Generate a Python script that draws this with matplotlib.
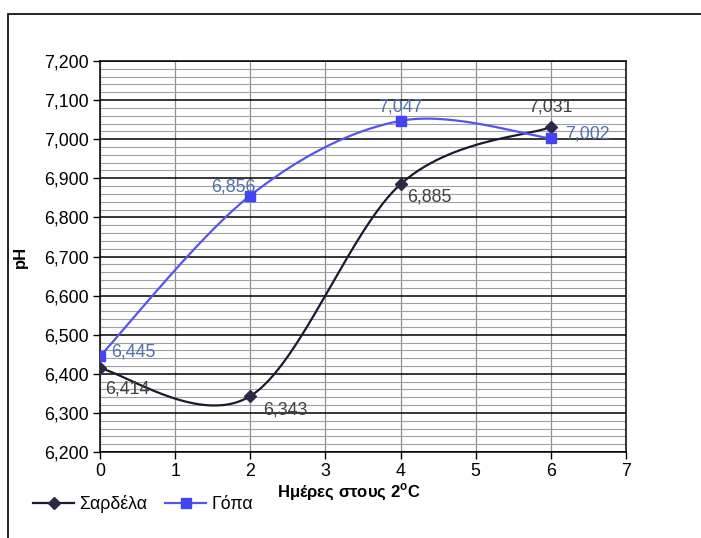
import numpy as np
import matplotlib
matplotlib.use("Agg")
import matplotlib.pyplot as plt
from matplotlib.ticker import FuncFormatter, MultipleLocator
from matplotlib.patches import Rectangle

days = [0, 2, 4, 6]
sardela = [6.414, 6.343, 6.885, 7.031]
gopa = [6.445, 6.856, 7.047, 7.002]
series_names = ["Σαρδέλα", "Γόπα"]
x_label = "Ημέρες στους 2$^{\\mathregular{o}}$C"
y_label = "pH"

plt.rcParams['font.family'] = ['Liberation Sans', 'DejaVu Sans']


def smooth(xs, ys, n=60):
    xs = np.asarray(xs, float); ys = np.asarray(ys, float)
    P = np.column_stack([xs, ys])
    out = []
    for i in range(len(P) - 1):
        p0 = P[i]; p3 = P[i + 1]
        pm = P[i - 1] if i > 0 else P[i]
        pp = P[i + 2] if i + 2 < len(P) else P[i + 1]
        c1 = p0 + (p3 - pm) / 6.0
        c2 = p3 - (pp - p0) / 6.0
        t = np.linspace(0, 1, n)[:, None]
        B = (1 - t) ** 3 * p0 + 3 * (1 - t) ** 2 * t * c1 + 3 * (1 - t) * t ** 2 * c2 + t ** 3 * p3
        out.append(B if i == 0 else B[1:])
    B = np.vstack(out)
    return B[:, 0], B[:, 1]


FS = 12.8

fig = plt.figure(figsize=(7.01, 5.38), dpi=100)
fig.patch.set_facecolor('white')
fig.add_artist(Rectangle((8 / 701, -0.1), 1.2, 1 - 14 / 538 + 0.1, transform=fig.transFigure,
                         fill=False, edgecolor='black', lw=1.2))

ax = fig.add_axes([100 / 701, 1 - 452 / 538, 526 / 701, 391 / 538])
ax.set_xlim(0, 7)
ax.set_ylim(6.2, 7.2)
ax.xaxis.set_major_locator(MultipleLocator(1))
ax.yaxis.set_major_locator(MultipleLocator(0.1))
ax.yaxis.set_minor_locator(MultipleLocator(0.02))
ax.yaxis.set_major_formatter(FuncFormatter(lambda v, p: f"{v:.3f}".replace('.', ',')))
ax.grid(which='minor', axis='y', color='#a0a0a0', lw=0.8)
ax.grid(which='major', axis='y', color='black', lw=1.1)
ax.grid(which='major', axis='x', color='#909090', lw=0.9)
ax.set_axisbelow(True)
ax.tick_params(axis='y', which='minor', length=0)
ax.tick_params(axis='both', which='major', length=5, width=1, labelsize=FS, colors='black', direction='out')
ax.tick_params(axis='y', pad=3)
ax.tick_params(axis='x', pad=3)
for s in ax.spines.values():
    s.set_color('black'); s.set_linewidth(1.1)

xs, ys = smooth(days, sardela)
ax.plot(xs, ys, color='#1a1a30', lw=1.6, zorder=3)
ax.plot(days, sardela, ls='none', marker='D', ms=6, color='#2a2a48', zorder=4)
xg, yg = smooth(days, gopa)
ax.plot(xg, yg, color='#5555ee', lw=1.6, zorder=3)
ax.plot(days, gopa, ls='none', marker='s', ms=7, color='#4444f0', zorder=4)

ax.plot([], [], color='#1a1a30', lw=1.6, marker='D', ms=6, mfc='#2a2a48', mec='#2a2a48', label=series_names[0])
ax.plot([], [], color='#5555ee', lw=1.6, marker='s', ms=7, mfc='#4444f0', mec='#4444f0', label=series_names[1])

sc = '#404040'
gc = '#4f72a8'
fmt = lambda v: f"{v:.3f}".replace('.', ',')
sard_off = [(4, -9, 'left', 'top'), (9, -4, 'left', 'top'), (5, -3, 'left', 'top'), (0, 8, 'center', 'bottom')]
gopa_off = [(8, 3, 'left', 'center'), (-12, 0, 'center', 'bottom'), (0, 4, 'center', 'bottom'), (10, 3, 'left', 'center')]
for x, y, (dx, dy, ha, va) in zip(days, sardela, sard_off):
    ax.annotate(fmt(y), (x, y), xytext=(dx, dy), textcoords='offset points', ha=ha, va=va, fontsize=FS, color=sc, zorder=5)
for x, y, (dx, dy, ha, va) in zip(days, gopa, gopa_off):
    ax.annotate(fmt(y), (x, y), xytext=(dx, dy), textcoords='offset points', ha=ha, va=va, fontsize=FS, color=gc, zorder=5)

ax.set_xlabel(x_label, fontsize=12, fontweight='bold', labelpad=0)
ax.set_ylabel(y_label, fontsize=12, fontweight='bold', labelpad=12)
ax.xaxis.label.set_va('center')
ax.xaxis.set_label_coords((349 - 100) / 526, -40 / 391)

leg = fig.legend(loc='center left', bbox_to_anchor=(26 / 701, 1 - 504 / 538), ncol=2, frameon=False,
                 fontsize=FS, handlelength=2.3, handletextpad=0.3, columnspacing=1.0, borderaxespad=0)

fig.savefig('out.png', dpi=100, facecolor='white')
